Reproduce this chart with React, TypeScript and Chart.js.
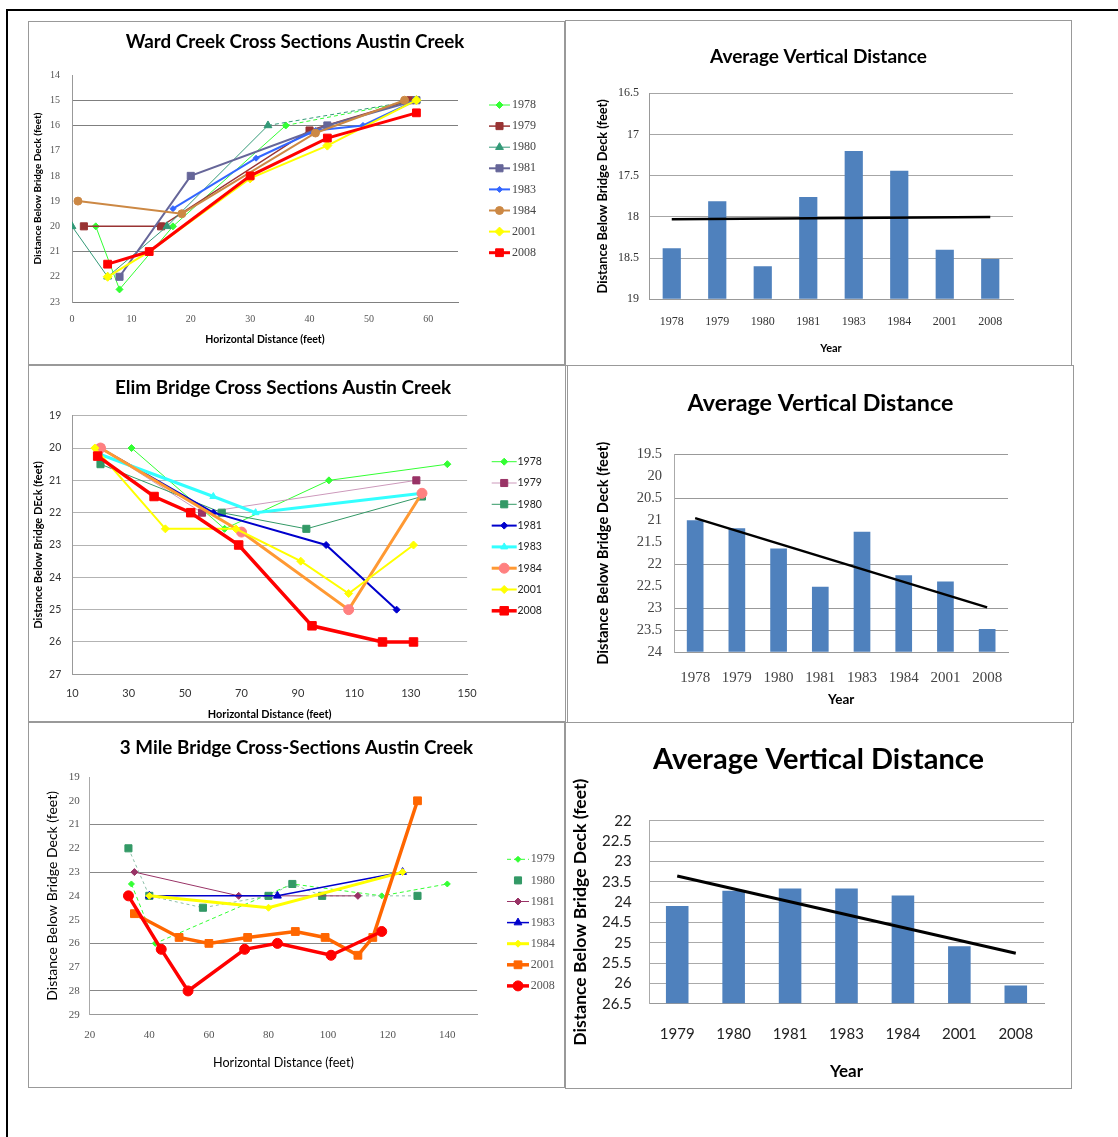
import React, { useEffect, useRef } from 'react';
import { Chart, registerables } from 'chart.js';
import { drawPoint } from 'chart.js/helpers';

Chart.register(...registerables);

// ---------------- DATA ----------------
const yearsAll = ['1978', '1979', '1980', '1981', '1983', '1984', '2001', '2008'];
const yearsMile = ['1979', '1980', '1981', '1983', '1984', '2001', '2008'];

// Ward Creek cross sections: [horizontal distance (ft), distance below deck (ft)]
const ward1978 = [[4, 20], [8, 22.5], [17, 20], [36, 16], [58, 15]];
const ward1979 = [[2, 20], [15, 20], [40, 16.2], [57, 15]];
const ward1980 = [[0, 20], [6, 22], [16, 20], [33, 16], [58, 15]];
const ward1981 = [[8, 22], [20, 18], [43, 16], [58, 15]];
const ward1983 = [[17, 19.3], [31, 17.3], [41, 16.2], [49, 16], [58, 15]];
const ward1984 = [[1, 19], [18.5, 19.5], [41, 16.3], [56, 15]];
const ward2001 = [[6, 22], [13, 21], [30, 18.1], [43, 16.8], [58, 15]];
const ward2008 = [[6, 21.5], [13, 21], [30, 18], [43, 16.5], [58, 15.5]];
const wardXTicks = [0, 10, 20, 30, 40, 50, 60];
const wardYTicks = [14, 15, 16, 17, 18, 19, 20, 21, 22, 23];
const wardAvg = [18.38, 17.81, 18.6, 17.76, 17.2, 17.44, 18.4, 18.51];
const wardTrend = [18.03, null, null, null, null, null, null, 18.0];
const wardAvgTicks = [16.5, 17, 17.5, 18, 18.5, 19];

// Elim Bridge cross sections
const elim1978 = [[31, 20], [64, 22.5], [101, 21], [143, 20.5]];
const elim1979 = [[20, 20], [56, 22], [132, 21]];
const elim1980 = [[20, 20.5], [63, 22], [93, 22.5], [134, 21.5]];
const elim1981 = [[20, 20], [60, 22], [100, 23], [125, 25]];
const elim1983 = [[20, 20.2], [60, 21.5], [75, 22], [134, 21.4]];
const elim1984 = [[20, 20], [70, 22.6], [108, 25], [134, 21.4]];
const elim2001 = [[18, 20], [43, 22.5], [68, 22.5], [91, 23.5], [108, 24.5], [131, 23]];
const elim2008 = [[19, 20.25], [39, 21.5], [52, 22], [69, 23], [95, 25.5], [120, 26], [131, 26]];
const elimXTicks = [10, 30, 50, 70, 90, 110, 130, 150];
const elimYTicks = [19, 20, 21, 22, 23, 24, 25, 26, 27];
const elimAvg = [21.0, 21.18, 21.64, 22.51, 21.26, 22.25, 22.39, 23.47];
const elimTrend = [20.95, null, null, null, null, null, null, 22.98];
const elimAvgTicks = [19.5, 20, 20.5, 21, 21.5, 22, 22.5, 23, 23.5, 24];

// 3 Mile Bridge cross sections
const mile1979 = [[34, 23.5], [42, 26], [88, 23.5], [118, 24], [140, 23.5]];
const mile1980 = [[33, 22], [40, 24], [58, 24.5], [80, 24], [88, 23.5], [98, 24], [130, 24]];
const mile1981 = [[35, 23], [70, 24], [110, 24]];
const mile1983 = [[40, 24], [83, 24], [125, 23]];
const mile1984 = [[40, 24], [80, 24.5], [125, 23]];
const mile2001 = [[35, 24.75], [50, 25.75], [60, 26], [73, 25.75], [89, 25.5], [99, 25.75], [110, 26.5], [115, 25.75], [130, 20]];
const mile2008 = [[33, 24], [44, 26.25], [53, 28], [72, 26.25], [83, 26], [101, 26.5], [118, 25.5]];
const mileXTicks = [20, 40, 60, 80, 100, 120, 140];
const mileYTicks = [19, 20, 21, 22, 23, 24, 25, 26, 27, 28, 29];
const mileAvg = [24.1, 23.72, 23.67, 23.67, 23.84, 25.09, 26.05];
const mileTrend = [23.36, null, null, null, null, null, 25.26];
const mileAvgTicks = [22, 22.5, 23, 23.5, 24, 24.5, 25, 25.5, 26, 26.5];

// ---------------- STYLE HELPERS ----------------
const SERIF = '"Liberation Serif", "DejaVu Serif", serif';
const SANS = 'Lato, "Noto Sans", sans-serif';
const BAR_BLUE = '#4f81bd';

const seriesKey = {
  id: 'seriesKey',
  afterDraw(chart: any, _a: any, opts: any) {
    if (!opts || !opts.display) return;
    const ctx = chart.ctx;
    ctx.save();
    chart.data.datasets.forEach((ds: any, i: number) => {
      const y = opts.y + i * opts.spacing;
      const x0 = opts.x;
      const x1 = opts.x + opts.len;
      if (ds.legendLine !== false && ds.borderWidth > 0) {
        ctx.beginPath();
        ctx.strokeStyle = ds.borderColor;
        ctx.lineWidth = ds.borderWidth;
        ctx.setLineDash(ds.borderDash || []);
        ctx.moveTo(x0, y);
        ctx.lineTo(x1, y);
        ctx.stroke();
        ctx.setLineDash([]);
      }
      ctx.fillStyle = ds.pointBackgroundColor;
      ctx.strokeStyle = ds.pointBorderColor;
      ctx.lineWidth = 1;
      drawPoint(ctx, { pointStyle: ds.pointStyle, rotation: 0, radius: ds.pointRadius, borderWidth: 1 } as any, (x0 + x1) / 2, y);
      ctx.fillStyle = opts.color;
      ctx.font = opts.font;
      ctx.textAlign = 'left';
      ctx.textBaseline = 'middle';
      ctx.fillText(ds.label, opts.textX, y);
    });
    ctx.restore();
  },
};

function lineSets(list: any[]) {
  const n = list.length;
  return list.map((s, i) => {
    const ds: any = {
      type: 'line',
      label: s.label,
      data: s.pts.map((p: number[]) => ({ x: p[0], y: p[1] })),
      borderColor: s.color,
      backgroundColor: s.color,
      borderWidth: s.width,
      borderDash: s.dash || [],
      pointStyle: s.style,
      pointRadius: s.r,
      pointHoverRadius: s.r,
      pointBackgroundColor: s.pointColor || s.color,
      pointBorderColor: s.pointColor || s.color,
      pointBorderWidth: 1,
      tension: 0,
      fill: false,
      order: n - i,
      xAxisID: 'x',
      yAxisID: 'y',
      legendLine: s.legendLine !== false,
    };
    if (s.lastDash) {
      const last = s.pts.length - 1;
      ds.segment = { borderDash: (c: any) => (c.p1DataIndex === last ? [4, 3] : undefined) };
    }
    return ds;
  });
}

// chart title centred at canvas y = centerY, plot area starting at plotTop
function mkTitle(text: string, size: number, centerY: number, plotTop: number) {
  const lh = size * 1.2;
  return {
    display: true,
    text,
    color: '#000',
    font: { family: SANS, size, weight: 'bold' },
    padding: { top: centerY - lh / 2, bottom: plotTop - centerY - lh / 2 },
  };
}

function mkY(o: any) {
  const tlh = o.titleFont.size * 1.2;
  return {
    type: 'linear',
    axis: 'y',
    position: 'left',
    reverse: true,
    min: o.min,
    max: o.max,
    afterFit: (s: any) => { s.width = o.width; },
    afterBuildTicks: (s: any) => { s.ticks = o.ticks.map((v: number) => ({ value: v })); },
    ticks: { font: o.tickFont, color: o.tickColor, padding: o.tickPad, autoSkip: false, callback: (v: any) => String(v) },
    grid: {
      drawTicks: false,
      lineWidth: 1,
      color: (c: any) => (o.grid === 'all' || (c.tick && o.grid.includes(c.tick.value)) ? o.gridColor : 'rgba(0,0,0,0)'),
    },
    border: { display: true, color: o.borderColor, width: 1 },
    title: { display: true, text: o.title, color: '#000', font: o.titleFont, padding: { top: o.titleX - tlh / 2, bottom: 0 } },
  };
}

function mkXLin(o: any) {
  const tlh = o.titleFont.size * 1.2;
  const klh = o.tickFont.size * 1.2;
  return {
    type: 'linear',
    axis: 'x',
    position: 'bottom',
    min: o.min,
    max: o.max,
    afterFit: (s: any) => { s.height = o.height; },
    afterBuildTicks: (s: any) => { s.ticks = o.ticks.map((v: number) => ({ value: v })); },
    ticks: { font: o.tickFont, color: o.tickColor, padding: o.tickOff - klh / 2, maxRotation: 0, autoSkip: false, callback: (v: any) => String(v) },
    grid: { display: false, drawTicks: false },
    border: { display: true, color: o.borderColor, width: 1 },
    title: { display: true, text: o.title, color: '#000', font: o.titleFont, padding: { top: 0, bottom: o.titleFromBottom - tlh / 2 } },
  };
}

function mkXCat(o: any) {
  const tlh = o.titleFont.size * 1.2;
  const klh = o.tickFont.size * 1.2;
  return {
    type: 'category',
    axis: 'x',
    position: 'bottom',
    offset: true,
    afterFit: (s: any) => { s.height = o.height; },
    ticks: { font: o.tickFont, color: o.tickColor, padding: o.tickOff - klh / 2, maxRotation: 0, autoSkip: false },
    grid: { display: false, drawTicks: false },
    border: { display: true, color: o.borderColor, width: 1 },
    title: { display: true, text: 'Year', color: '#000', font: o.titleFont, padding: { top: 0, bottom: o.titleFromBottom - tlh / 2 } },
  };
}

function spacer(w: number) {
  return {
    type: 'linear',
    axis: 'y',
    position: 'right',
    display: true,
    afterFit: (s: any) => { s.width = w; },
    ticks: { display: false },
    grid: { display: false, drawTicks: false },
    border: { display: false },
    title: { display: false },
  };
}

const baseOpts = { animation: false, responsive: false, events: [] as any[] };

// ---------------- CHART CONFIGS ----------------
const wardLineConfig = () => ({
  type: 'line',
  data: {
    datasets: lineSets([
      { label: '1978', pts: ward1978, color: '#33ff33', width: 1, style: 'rectRot', r: 3.5, lastDash: true },
      { label: '1979', pts: ward1979, color: '#993333', width: 1.5, style: 'rect', r: 5 },
      { label: '1980', pts: ward1980, color: '#339977', width: 1, style: 'triangle', r: 4.5, lastDash: true },
      { label: '1981', pts: ward1981, color: '#666699', width: 2, style: 'rect', r: 5 },
      { label: '1983', pts: ward1983, color: '#3366ff', width: 2, style: 'rectRot', r: 3 },
      { label: '1984', pts: ward1984, color: '#cc8844', width: 2, style: 'circle', r: 4 },
      { label: '2001', pts: ward2001, color: '#ffff00', width: 2, style: 'rectRot', r: 4.5 },
      { label: '2008', pts: ward2008, color: '#ff0000', width: 3, style: 'rect', r: 5.5 },
    ]),
  },
  options: {
    ...baseOpts,
    layout: { padding: { left: 0, top: 0, bottom: 0, right: 3 } },
    plugins: {
      legend: { display: false },
      tooltip: { enabled: false },
      title: mkTitle('Ward Creek Cross Sections Austin Creek', 18.8, 20, 53),
      seriesKey: { display: true, x: 460, len: 21, textX: 483, y: 83, spacing: 21.1, font: `12px ${SERIF}`, color: '#444' },
    },
    scales: {
      x: mkXLin({ min: 0, max: 65, ticks: wardXTicks, height: 62, tickFont: { family: SERIF, size: 10 }, tickColor: '#555', tickOff: 17, borderColor: '#808080', title: 'Horizontal Distance (feet)', titleFont: { family: SANS, size: 10.5, weight: 'bold' }, titleFromBottom: 24 }),
      y: mkY({ min: 14, max: 23, ticks: wardYTicks, width: 43, tickFont: { family: SERIF, size: 10 }, tickColor: '#555', tickPad: 12, grid: [15, 16, 21], gridColor: '#7f7f7f', borderColor: '#999', title: 'Distance Below Bridge Deck (feet)', titleFont: { family: SANS, size: 10, weight: 'bold' }, titleX: 9 }),
      yR: spacer(103),
    },
  },
  plugins: [seriesKey],
});

function barConfig(p: any) {
  return {
    type: 'bar',
    data: {
      labels: p.labels,
      datasets: [
        { type: 'line', label: 'Linear trend', data: p.trend, borderColor: '#000', borderWidth: p.trendWidth, pointRadius: 0, spanGaps: true, order: 0, yAxisID: 'y', xAxisID: 'x' },
        { type: 'bar', label: 'Average', data: p.values, backgroundColor: BAR_BLUE, base: p.base, barPercentage: 0.4, categoryPercentage: 1, order: 1, yAxisID: 'y', xAxisID: 'x' },
      ],
    },
    options: {
      ...baseOpts,
      layout: { padding: { left: 0, top: 0, bottom: 0, right: 0 } },
      plugins: {
        legend: { display: false },
        tooltip: { enabled: false },
        title: mkTitle('Average Vertical Distance', p.titleSize, p.titleY, p.plotTop),
      },
      scales: {
        x: mkXCat(p.x),
        y: mkY(p.y),
        yR: spacer(p.spacer),
      },
    },
  };
}

const wardBarConfig = () => barConfig({
  labels: yearsAll, values: wardAvg, trend: wardTrend, base: 19, trendWidth: 2.5,
  titleSize: 19, titleY: 36, plotTop: 72.3, spacer: 58,
  x: { height: 65.7, tickFont: { family: SERIF, size: 12 }, tickColor: '#333', tickOff: 22.4, borderColor: '#999', titleFont: { family: SANS, size: 11, weight: 'bold' }, titleFromBottom: 17 },
  y: { min: 16.5, max: 19, ticks: wardAvgTicks, width: 83, tickFont: { family: SERIF, size: 12 }, tickColor: '#333', tickPad: 10, grid: 'all', gridColor: '#a6a6a6', borderColor: '#999', title: 'Distance Below Bridge Deck (feet)', titleFont: { family: SANS, size: 12.8, weight: 'bold' }, titleX: 37 },
});

const elimLineConfig = () => ({
  type: 'line',
  data: {
    datasets: lineSets([
      { label: '1978', pts: elim1978, color: '#33ff33', width: 1, style: 'rectRot', r: 3.5 },
      { label: '1979', pts: elim1979, color: '#cc99bb', pointColor: '#993366', width: 1, style: 'rect', r: 5 },
      { label: '1980', pts: elim1980, color: '#339966', width: 1, style: 'rect', r: 5 },
      { label: '1981', pts: elim1981, color: '#0000cc', width: 2, style: 'rectRot', r: 3.5 },
      { label: '1983', pts: elim1983, color: '#33ffff', width: 3, style: 'triangle', r: 4 },
      { label: '1984', pts: elim1984, color: '#ff9933', pointColor: '#ff8080', width: 3, style: 'circle', r: 5 },
      { label: '2001', pts: elim2001, color: '#ffff00', width: 2, style: 'rectRot', r: 4 },
      { label: '2008', pts: elim2008, color: '#ff0000', width: 3.5, style: 'rect', r: 6 },
    ]),
  },
  options: {
    ...baseOpts,
    layout: { padding: { left: 0, top: 0, bottom: 0, right: 28 } },
    plugins: {
      legend: { display: false },
      tooltip: { enabled: false },
      title: mkTitle('Elim Bridge Cross Sections Austin Creek', 18.9, 21.7, 49.7),
      seriesKey: { display: true, x: 462.7, len: 25, textX: 488.5, y: 95.7, spacing: 21.3, font: `10.5px ${SANS}`, color: '#222' },
    },
    scales: {
      x: mkXLin({ min: 10, max: 150, ticks: elimXTicks, height: 46.7, tickFont: { family: SANS, size: 11 }, tickColor: '#333', tickOff: 19, borderColor: '#999', title: 'Horizontal Distance (feet)', titleFont: { family: SANS, size: 10.9, weight: 'bold' }, titleFromBottom: 7 }),
      y: mkY({ min: 19, max: 27, ticks: elimYTicks, width: 43.3, tickFont: { family: SANS, size: 10.5 }, tickColor: '#333', tickPad: 11, grid: 'all', gridColor: '#b3b3b3', borderColor: '#999', title: 'Distance Below Bridge DEck (feet)', titleFont: { family: SANS, size: 11, weight: 'bold' }, titleX: 9 }),
      yR: spacer(69.9),
    },
  },
  plugins: [seriesKey],
});

const elimBarConfig = () => barConfig({
  labels: yearsAll, values: elimAvg, trend: elimTrend, base: 24, trendWidth: 2.5,
  titleSize: 23.3, titleY: 37.3, plotTop: 88.3, spacer: 65,
  x: { height: 69.7, tickFont: { family: SERIF, size: 15 }, tickColor: '#444', tickOff: 25.7, borderColor: '#999', titleFont: { family: SANS, size: 13.5, weight: 'bold' }, titleFromBottom: 22 },
  y: { min: 19.5, max: 24, ticks: elimAvgTicks, width: 106.3, tickFont: { family: SERIF, size: 14.5 }, tickColor: '#444', tickPad: 12.3, grid: [19.5, 20.5, 22, 23, 23.5], gridColor: '#999', borderColor: '#aaa', title: 'Distance Below Bridge Deck (feet)', titleFont: { family: SANS, size: 14.7, weight: 'bold' }, titleX: 35 },
});

const mileLineConfig = () => ({
  type: 'line',
  data: {
    datasets: lineSets([
      { label: '1979', pts: mile1979, color: '#33ff33', width: 1, dash: [4, 3], style: 'rectRot', r: 3 },
      { label: '1980', pts: mile1980, color: '#8cbfa8', pointColor: '#339966', width: 1, dash: [3, 3], style: 'rect', r: 5, legendLine: false },
      { label: '1981', pts: mile1981, color: '#993366', width: 1, style: 'rectRot', r: 3.5 },
      { label: '1983', pts: mile1983, color: '#0000cc', width: 1.5, style: 'triangle', r: 4.5 },
      { label: '1984', pts: mile1984, color: '#ffff00', width: 3, style: 'rectRot', r: 3.5 },
      { label: '2001', pts: mile2001, color: '#ff6600', width: 3.5, style: 'rect', r: 5.5 },
      { label: '2008', pts: mile2008, color: '#ff0000', width: 3.5, style: 'circle', r: 5 },
    ]),
  },
  options: {
    ...baseOpts,
    layout: { padding: { left: 0, top: 0, bottom: 0, right: 0 } },
    plugins: {
      legend: { display: false },
      tooltip: { enabled: false },
      title: mkTitle('3 Mile Bridge Cross-Sections Austin Creek', 18.8, 25, 54),
      seriesKey: { display: true, x: 478, len: 22, textX: 501.7, y: 136.3, spacing: 21.1, font: `12px ${SERIF}`, color: '#555' },
    },
    scales: {
      x: mkXLin({ min: 20, max: 150, ticks: mileXTicks, height: 72.3, tickFont: { family: SERIF, size: 11 }, tickColor: '#555', tickOff: 20.6, borderColor: '#999', title: 'Horizontal Distance (feet)', titleFont: { family: SANS, size: 12.6 }, titleFromBottom: 24.3 }),
      y: mkY({ min: 19, max: 29, ticks: mileYTicks, width: 60.7, tickFont: { family: SERIF, size: 11 }, tickColor: '#555', tickPad: 10, grid: [21, 23, 26, 28], gridColor: '#888', borderColor: '#aaa', title: 'Distance Below Bridge Deck (feet)', titleFont: { family: SANS, size: 14 }, titleX: 23 }),
      yR: spacer(86.9),
    },
  },
  plugins: [seriesKey],
});

const mileBarConfig = () => barConfig({
  labels: yearsMile, values: mileAvg, trend: mileTrend, base: 26.5, trendWidth: 3,
  titleSize: 29, titleY: 36.3, plotTop: 97.7, spacer: 27,
  x: { height: 84.3, tickFont: { family: SANS, size: 15 }, tickColor: '#222', tickOff: 30, borderColor: '#999', titleFont: { family: SANS, size: 17, weight: 'bold' }, titleFromBottom: 16.7 },
  y: { min: 22, max: 26.5, ticks: mileAvgTicks, width: 83, tickFont: { family: SANS, size: 15 }, tickColor: '#222', tickPad: 17.3, grid: 'all', gridColor: '#aaa', borderColor: '#aaa', title: 'Distance Below Bridge Deck (feet)', titleFont: { family: SANS, size: 17.6, weight: 'bold' }, titleX: 14 },
});

// ---------------- COMPONENTS ----------------
function Panel({ l, t, w, h, make }: { l: number; t: number; w: number; h: number; make: () => any }) {
  const ref = useRef<HTMLCanvasElement | null>(null);
  useEffect(() => {
    if (!ref.current) return;
    const chart = new Chart(ref.current, make());
    return () => chart.destroy();
  }, []);
  return (
    <div style={{ position: 'absolute', left: l, top: t, width: w, height: h, boxSizing: 'border-box', border: '1px solid #999', background: '#fff' }}>
      <canvas ref={ref} width={w - 2} height={h - 2} style={{ display: 'block', width: w - 2, height: h - 2 }} />
    </div>
  );
}

export default function App() {
  return (
    <div style={{ position: 'absolute', left: 0, top: 0, width: 1118, height: 1137, overflow: 'hidden', background: '#fff' }}>
      <div style={{ position: 'absolute', left: 6, top: 9, width: 1130, height: 1150, borderTop: '2px solid #000', borderLeft: '2px solid #000' }} />
      <Panel l={28} t={21} w={537} h={344} make={wardLineConfig} />
      <Panel l={565} t={20} w={507} h={346} make={wardBarConfig} />
      <Panel l={28} t={365} w={538} h={357} make={elimLineConfig} />
      <Panel l={567} t={365} w={507} h={358} make={elimBarConfig} />
      <Panel l={28} t={722} w={537} h={366} make={mileLineConfig} />
      <Panel l={565} t={722} w={507} h={367} make={mileBarConfig} />
    </div>
  );
}
